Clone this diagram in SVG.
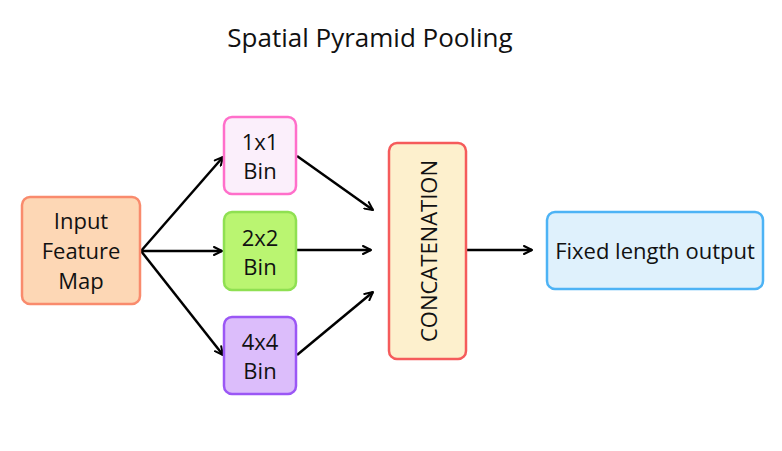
<svg xmlns="http://www.w3.org/2000/svg" width="782" height="451" viewBox="0 0 782 451">
<defs>
<marker id="ah" viewBox="0 0 10 10" refX="9" refY="5" markerWidth="10" markerHeight="10" markerUnits="userSpaceOnUse" orient="auto">
<path d="M1,1 L9,5 L1,9" fill="none" stroke="#000" stroke-width="2" stroke-linecap="round" stroke-linejoin="round"/>
</marker>
<style>
text{font-family:"Open Sans","DejaVu Sans",sans-serif;fill:#111;text-anchor:middle}
.n{font-size:22px}
.b{stroke-width:2.5}
.c{stroke:#000;stroke-width:2.5;fill:none;marker-end:url(#ah)}
</style>
</defs>
<rect width="782" height="451" fill="#fff"/>
<text x="370" y="47" style="font-size:26px">Spatial Pyramid Pooling</text>
<g id="connectors">
<line class="c" x1="141" y1="251" x2="223" y2="157"/>
<line class="c" x1="141" y1="251" x2="222" y2="251"/>
<line class="c" x1="141" y1="251" x2="223" y2="355"/>
<line class="c" x1="297" y1="156" x2="373" y2="210"/>
<line class="c" x1="297" y1="250" x2="371" y2="250"/>
<line class="c" x1="297" y1="355" x2="373" y2="292"/>
<line class="c" x1="467" y1="250" x2="532" y2="250"/>
</g>
<g id="input">
<rect class="b" x="22" y="197" width="118" height="107" rx="8" fill="#fdd7b5" stroke="#f98b6d"/>
<text class="n" x="81" y="229">Input</text>
<text class="n" x="81" y="259">Feature</text>
<text class="n" x="81" y="289">Map</text>
</g>
<g id="bin1">
<rect class="b" x="224" y="117" width="72" height="77" rx="8" fill="#fbeffb" stroke="#ff6fca"/>
<text class="n" x="260" y="150">1x1</text>
<text class="n" x="260" y="179">Bin</text>
</g>
<g id="bin2">
<rect class="b" x="224" y="212" width="72" height="78" rx="8" fill="#baf571" stroke="#8fe052"/>
<text class="n" x="260" y="246">2x2</text>
<text class="n" x="260" y="275">Bin</text>
</g>
<g id="bin4">
<rect class="b" x="224" y="317" width="72" height="77" rx="8" fill="#dcbdfb" stroke="#9b57f5"/>
<text class="n" x="260" y="350">4x4</text>
<text class="n" x="260" y="379">Bin</text>
</g>
<g id="concat">
<rect class="b" x="389" y="143" width="77" height="216" rx="8" fill="#fdf0cd" stroke="#f55b5b"/>
<text class="n" transform="translate(437 251) rotate(-90)" x="0" y="0">CONCATENATION</text>
</g>
<g id="output">
<rect class="b" x="547" y="212" width="216" height="77" rx="8" fill="#dff1fc" stroke="#4db3f5"/>
<text class="n" x="655" y="259">Fixed length output</text>
</g>
</svg>
